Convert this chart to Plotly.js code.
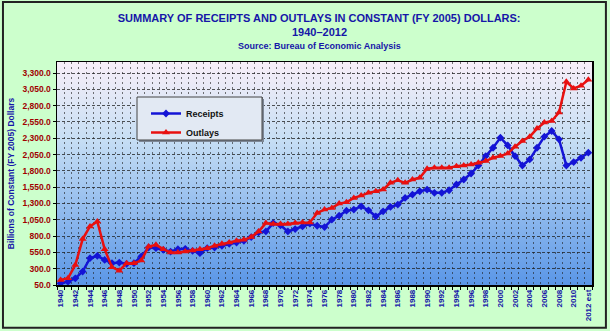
<!DOCTYPE html>
<html>
<head>
<meta charset="utf-8">
<script src="https://cdn.plot.ly/plotly-3.0.1.min.js"></script>
<style>
html,body{margin:0;padding:0;background:#ccffcc;}
#chart{width:610px;height:331px;}
</style>
</head>
<body>
<div id="chart"></div>
<script>
// Fiscal years (x positions) and their tick labels
const years = [1940,1941,1942,1943,1944,1945,1946,1947,1948,1949,
  1950,1951,1952,1953,1954,1955,1956,1957,1958,1959,
  1960,1961,1962,1963,1964,1965,1966,1967,1968,1969,
  1970,1971,1972,1973,1974,1975,1976,1977,1978,1979,
  1980,1981,1982,1983,1984,1985,1986,1987,1988,1989,
  1990,1991,1992,1993,1994,1995,1996,1997,1998,1999,
  2000,2001,2002,2003,2004,2005,2006,2007,2008,2009,
  2010,2011,2012];
const yearLabels = ["1940","1941","1942","1943","1944","1945","1946","1947","1948","1949",
  "1950","1951","1952","1953","1954","1955","1956","1957","1958","1959",
  "1960","1961","1962","1963","1964","1965","1966","1967","1968","1969",
  "1970","1971","1972","1973","1974","1975","1976","1977","1978","1979",
  "1980","1981","1982","1983","1984","1985","1986","1987","1988","1989",
  "1990","1991","1992","1993","1994","1995","1996","1997","1998","1999",
  "2000","2001","2002","2003","2004","2005","2006","2007","2008","2009",
  "2010","2011","2012 est"];

// Billions of constant (FY 2005) dollars
const receipts = [76,101,153,256,461,497,435,384,394,374,
  384,487,625,615,589,563,600,605,574,538,
  615,625,651,682,702,728,785,856,871,1000,
  964,871,908,948,990,959,938,1052,1113,1190,
  1206,1257,1195,1103,1180,1247,1283,1386,1437,1488,
  1514,1463,1463,1503,1591,1668,1760,1883,2027,2155,
  2309,2191,2027,1883,1976,2155,2325,2412,2284,1883,
  1935,2001,2079];
const outlays = [127,153,358,754,948,1025,600,323,270,384,
  384,425,640,666,600,548,548,563,579,600,
  615,651,682,702,728,743,785,871,1000,985,
  985,985,1000,1010,1010,1155,1206,1232,1298,1319,
  1386,1421,1463,1488,1514,1617,1657,1617,1668,1694,
  1833,1848,1848,1848,1873,1883,1899,1925,1950,2001,
  2027,2068,2171,2258,2325,2449,2541,2566,2696,3167,
  3065,3106,3198];

const yTicks = [50,300,550,800,1050,1300,1550,1800,2050,2300,2550,2800,3050,3300];

const tickYears = years.filter((y, i) => i % 2 === 0);
const tickText = yearLabels.filter((y, i) => i % 2 === 0);

const titleMain = 'SUMMARY OF RECEIPTS AND OUTLAYS IN CONSTANT (FY 2005) DOLLARS:';
const titlePeriod = '1940\u20132012';
const titleSource = 'Source: Bureau of Economic Analysis';

const gradSvg = '<svg xmlns="http://www.w3.org/2000/svg" width="100" height="100" preserveAspectRatio="none">' +
  '<defs><linearGradient id="g" x1="0" y1="0" x2="0" y2="1">' +
  '<stop offset="0" stop-color="#f8eff8"/>' +
  '<stop offset="0.35" stop-color="#c6def4"/>' +
  '<stop offset="1" stop-color="#5a96e7"/>' +
  '</linearGradient></defs><rect width="100" height="100" fill="url(#g)"/></svg>';
const gradUri = 'data:image/svg+xml;base64,' + btoa(gradSvg);

const blue = '#1414d6';
const red = '#e81010';
const titleBlue = '#1616a8';
const fam = 'Liberation Sans, Arial, sans-serif';

const traces = [
  {
    x: years, y: receipts, name: 'Receipts', type: 'scatter', mode: 'lines+markers',
    line: {color: blue, width: 2.5},
    marker: {symbol: 'diamond', size: 6, color: blue}
  },
  {
    x: years, y: outlays, name: 'Outlays', type: 'scatter', mode: 'lines+markers',
    line: {color: red, width: 2.5},
    marker: {symbol: 'triangle-up', size: 7, color: red}
  }
];

const layout = {
  width: 610, height: 331,
  margin: {l: 57, r: 18, t: 62, b: 46},
  paper_bgcolor: '#ccffcc',
  plot_bgcolor: 'rgba(0,0,0,0)',
  font: {family: fam},
  title: {
    text: '<b>' + titleMain + '</b>',
    font: {size: 11, color: titleBlue},
    x: 0.49, xanchor: 'center', xref: 'paper',
    y: 1 - 18 / 331, yanchor: 'middle', yref: 'container'
  },
  annotations: [
    {text: '<b>' + titlePeriod + '</b>', xref: 'paper', yref: 'paper', x: 0.49, y: (285 - 32) / 223,
     xanchor: 'center', yanchor: 'middle', showarrow: false, font: {size: 11, color: titleBlue}},
    {text: '<b>' + titleSource + '</b>', xref: 'paper', yref: 'paper', x: 0.49, y: (285 - 46) / 223,
     xanchor: 'center', yanchor: 'middle', showarrow: false, font: {size: 9, color: titleBlue}}
  ],
  xaxis: {
    range: [1939.5, 2012.5],
    tickmode: 'array', tickvals: tickYears, ticktext: tickText,
    tickangle: -90, ticks: '', showgrid: false, zeroline: false,
    tickfont: {size: 8, color: titleBlue, family: fam, weight: 'bold'},
    minor: {tick0: 1939.5, dtick: 1, showgrid: true, gridcolor: 'rgba(30,30,30,0.6)', griddash: '2px,3px', gridwidth: 1, ticks: 'outside', ticklen: 3, tickcolor: '#000'},
    showline: true, linecolor: '#000', linewidth: 1.5, mirror: true
  },
  yaxis: {
    range: [50, 3470],
    tickmode: 'array', tickvals: yTicks, tickformat: ',.1f',
    ticks: 'outside', ticklen: 3, tickcolor: '#000',
    showgrid: true, gridcolor: 'rgba(30,30,30,0.75)', griddash: '3px,2px', gridwidth: 1, zeroline: false,
    tickfont: {size: 8.5, color: '#a00000', family: fam, weight: 'bold'},
    title: {text: '<b>Billions of Constant (FY 2005) Dollars</b>', font: {size: 8.5, color: titleBlue}, standoff: 6},
    showline: true, linecolor: '#000', linewidth: 1.5, mirror: true
  },
  legend: {
    x: (146 - 57) / 535, y: (285 - 99) / 223, xanchor: 'left', yanchor: 'top',
    bgcolor: 'rgba(0,0,0,0)', borderwidth: 0,
    font: {size: 9, color: '#111', family: fam, weight: 'bold'},
    itemwidth: 30
  },
  images: [{
    source: gradUri, xref: 'paper', yref: 'paper', x: 0, y: 1, sizex: 1, sizey: 1,
    sizing: 'stretch', layer: 'below', xanchor: 'left', yanchor: 'top'
  }],
  shapes: [
    {type: 'rect', xref: 'paper', yref: 'paper',
     x0: -0.101, x1: 1.026, y0: -0.192, y1: 1.269,
     line: {color: '#222', width: 2}, fillcolor: 'rgba(0,0,0,0)', layer: 'below'},
    // legend shadow
    {type: 'rect', xref: 'paper', yref: 'paper',
     x0: (139 - 57) / 535, x1: (264 - 57) / 535, y0: (285 - 142) / 223, y1: (285 - 99) / 223,
     line: {width: 0}, fillcolor: '#7d8796', layer: 'above'},
    // legend box
    {type: 'rect', xref: 'paper', yref: 'paper',
     x0: (137 - 57) / 535, x1: (262 - 57) / 535, y0: (285 - 140) / 223, y1: (285 - 97) / 223,
     line: {color: '#444', width: 1}, fillcolor: '#e2e9f3', layer: 'above'}
  ],
  showlegend: true
};

Plotly.newPlot('chart', traces, layout, {displayModeBar: false, staticPlot: true});
</script>
</body>
</html>
